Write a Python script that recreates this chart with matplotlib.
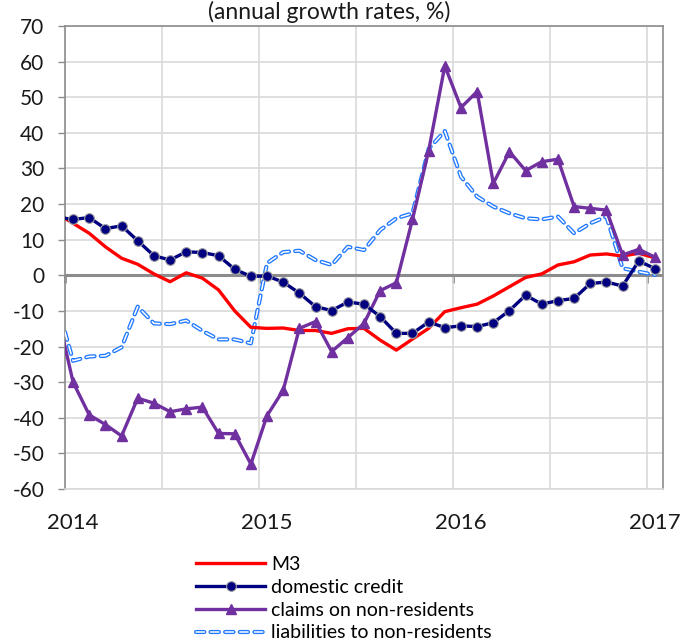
import numpy as np
import matplotlib
matplotlib.use("Agg")
import matplotlib.pyplot as plt

plt.rcParams['font.family'] = ['Lato', 'DejaVu Sans']
plt.rcParams['lines.scale_dashes'] = False
plt.rcParams['axes.unicode_minus'] = False

# monthly observations, Dec 2013 .. Jan 2017 (first one sits just left of the axis)
m3 = [17.4, 14.6, 11.8, 8.0, 4.8, 3.1, 0.4, -1.8, 0.7, -0.8, -4.1, -10.0, -14.6,
      -14.9, -14.8, -15.5, -15.5, -16.3, -15.0, -14.9, -18.2, -21.0, -17.9, -14.9,
      -10.2, -9.1, -8.1, -5.8, -3.2, -0.6, 0.4, 2.9, 3.8, 5.7, 6.0, 5.4, 6.2, 4.9]
domestic_credit = [16.3, 15.7, 16.2, 13.1, 13.9, 9.7, 5.5, 4.3, 6.6, 6.4, 5.5, 1.7, -0.3,
                   -0.2, -1.9, -5.0, -8.8, -9.9, -7.5, -8.1, -11.6, -16.3, -16.3, -13.1,
                   -14.7, -14.2, -14.4, -13.3, -9.9, -5.6, -8.1, -7.1, -6.5, -2.3, -1.9,
                   -3.0, 4.0, 1.9]
claims_nonres = [-10.0, -30.0, -39.2, -41.9, -45.1, -34.5, -35.9, -38.3, -37.5, -37.0,
                 -44.4, -44.5, -53.0, -39.4, -32.3, -14.9, -13.0, -21.4, -17.5, -13.5,
                 -4.3, -2.1, 15.7, 35.0, 58.8, 47.1, 51.6, 25.8, 34.7, 29.4, 31.9, 32.6,
                 19.3, 18.8, 18.3, 5.7, 7.3, 5.1]
liabilities_nonres = [-8.0, -24.0, -22.8, -22.6, -20.2, -8.8, -13.5, -13.7, -12.7, -15.6,
                      -18.0, -18.0, -19.1, 3.4, 6.5, 6.9, 4.3, 2.9, 8.0, 7.1, 12.7, 16.0,
                      17.4, 35.5, 40.5, 27.7, 22.1, 19.3, 17.4, 16.0, 15.7, 16.5, 11.8,
                      14.6, 16.5, 2.0, 1.0, 0.1]
year_labels = ['2014', '2015', '2016', '2017']

# x in months from Jan 2014; points sit mid-month
x = np.arange(len(m3)) - 0.5
grid_c = '#d9d9d9'
axis_c = '#8c8c8c'

fig = plt.figure(figsize=(6.83, 6.42), dpi=100)
ax = fig.add_axes([65 / 683, 1 - 489 / 642, 598 / 683, 463 / 642])

ax.set_xlim(0, 37)
ax.set_ylim(-60, 70)
ax.set_yticks(range(-60, 71, 10))
ax.set_xticks(range(0, 37, 6))
ax.set_xticks([0.5, 12.5, 24.5, 36.5], minor=True)
ax.set_xticklabels([])
ax.set_xticklabels(year_labels, minor=True)
ax.tick_params(axis='x', which='major', length=0)
ax.tick_params(axis='x', which='minor', length=0, pad=17, labelsize=16, labelcolor='#1a1a1a')
ax.tick_params(axis='y', length=5, width=1, color=axis_c, pad=10, labelsize=15,
               labelcolor='#1a1a1a')
ax.grid(True, color=grid_c, linewidth=1.2)
ax.set_axisbelow(True)
for s in ax.spines.values():
    s.set_color(axis_c)
    s.set_linewidth(1.2)
ax.spines['bottom'].set_color(grid_c)

# zero line with year ticks on it
ax.axhline(0, color=axis_c, linewidth=2.2, zorder=1.5)
sec = ax.secondary_xaxis(6 / 13)
sec.set_xticks([0, 12, 24, 36])
sec.set_xticklabels([])
sec.tick_params(length=6, width=2, color=axis_c, direction='out')
for s in sec.spines.values():
    s.set_visible(False)

l_m3, = ax.plot(x, m3, color='#ff0000', linewidth=2.4, solid_joinstyle='round', zorder=3)
l_dc, = ax.plot(x, domestic_credit, color='#000080', linewidth=2.4, marker='o',
                markersize=7, markerfacecolor='#000080', markeredgecolor='#a0a0a0',
                markeredgewidth=0.8, zorder=4)
l_cl, = ax.plot(x, claims_nonres, color='#7030a0', linewidth=2.4, marker='^',
                markersize=7.5, markeredgecolor='#7030a0', solid_joinstyle='round', zorder=3)
l_li_out, = ax.plot(x, liabilities_nonres, color='#1f78ff', linewidth=3.0,
                    linestyle=(0, (6, 4.5)), dash_capstyle='round', zorder=2.5)
l_li_in, = ax.plot(x, liabilities_nonres, color='white', linewidth=1.1,
                   linestyle=(0, (6, 4.5)), dash_capstyle='round', zorder=2.6)

fig.text(329 / 683, 1 - 19 / 642, '(annual growth rates, %)', ha='center',
         va='baseline', fontsize=16.5, color='#1a1a1a')

fig.legend([l_m3, l_dc, l_cl, (l_li_out, l_li_in)],
           ['M3', 'domestic credit', 'claims on non-residents', 'liabilities to non-residents'],
           loc='upper left', bbox_to_anchor=(196 / 683, 1 - 556 / 642), frameon=False,
           fontsize=14, handlelength=3.55, handletextpad=0.3, labelspacing=0.3,
           borderpad=0, borderaxespad=0, numpoints=1)

fig.savefig('out.png', dpi=100)
